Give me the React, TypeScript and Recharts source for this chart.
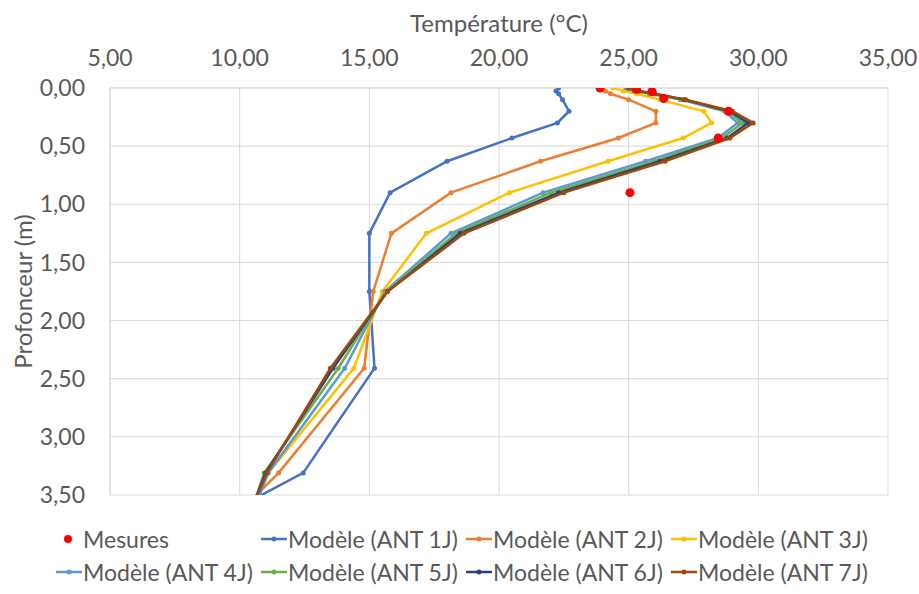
import { ScatterChart, Scatter, XAxis, YAxis, CartesianGrid } from "recharts";

// Axes
const TEMP_TICKS = [5, 10, 15, 20, 25, 30, 35];
const DEPTH_TICKS = [0, 0.5, 1, 1.5, 2, 2.5, 3, 3.5];

// Model profiles share the same depths (m); last point sits below the axis and is clipped
const MODEL_DEPTHS = [0, 0.025, 0.05, 0.1, 0.2, 0.3, 0.43, 0.63, 0.9, 1.25, 1.75, 2.41, 3.31, 3.6];
const ANT_1J = [22.3, 22.2, 22.3, 22.45, 22.7, 22.25, 20.5, 18.0, 15.8, 15.0, 15.0, 15.2, 12.45, 10.0];
const ANT_2J = [23.9, 24.1, 24.3, 25.0, 26.05, 26.05, 24.6, 21.6, 18.15, 15.85, 15.15, 14.8, 11.5, 10.2];
const ANT_3J = [24.4, 24.8, 25.3, 26.2, 27.9, 28.2, 27.1, 24.2, 20.4, 17.2, 15.5, 14.4, 11.1, 10.6];
const ANT_4J = [24.9, 25.2, 25.8, 27.0, 28.7, 29.2, 28.45, 25.65, 21.7, 18.15, 15.6, 14.05, 11.1, 10.6];
const ANT_5J = [25.0, 25.3, 25.9, 27.1, 28.8, 29.4, 28.6, 26.0, 22.0, 18.35, 15.65, 13.8, 10.95, 10.5];
const ANT_6J = [25.0, 25.35, 26.0, 27.15, 28.9, 29.6, 28.8, 26.2, 22.3, 18.5, 15.7, 13.6, 11.0, 10.5];
const ANT_7J = [25.0, 25.4, 26.0, 27.2, 29.0, 29.8, 28.9, 26.4, 22.5, 18.65, 15.7, 13.5, 11.05, 10.5];

// Measurements
const MESURES_DEPTHS = [0, 0.01, 0.03, 0.09, 0.2, 0.43, 0.9];
const MESURES_TEMPS = [23.9, 25.3, 25.9, 26.35, 28.85, 28.45, 25.05];

const FONT = "Lato, 'Open Sans', sans-serif";
const TEXT_COLOR = "#595959";
const GRID = "#d9d9d9";

const MODELS = [
  { name: "Modèle (ANT 1J)", color: "#4472C4", temps: ANT_1J },
  { name: "Modèle (ANT 2J)", color: "#ED7D31", temps: ANT_2J },
  { name: "Modèle (ANT 3J)", color: "#FFC000", temps: ANT_3J },
  { name: "Modèle (ANT 4J)", color: "#5B9BD5", temps: ANT_4J },
  { name: "Modèle (ANT 5J)", color: "#70AD47", temps: ANT_5J },
  { name: "Modèle (ANT 6J)", color: "#264478", temps: ANT_6J },
  { name: "Modèle (ANT 7J)", color: "#9E480E", temps: ANT_7J },
];

const toPoints = (temps: number[], depths: number[]) =>
  temps.map((t, i) => ({ t, d: depths[i] }));

const fmt = (v: number) => v.toFixed(2).replace(".", ",");

function dot(color: string, r: number) {
  return (props: any) =>
    props.cx == null ? <g /> : <circle cx={props.cx} cy={props.cy} r={r} fill={color} />;
}

function LegendItem({ name, color, measure }: { name: string; color: string; measure?: boolean }) {
  return (
    <div style={{ display: "flex", alignItems: "center", height: 33 }}>
      <svg width={28} height={12} style={{ flex: "none" }}>
        {measure ? (
          <circle cx={13} cy={6} r={4} fill="#FF0000" />
        ) : (
          <>
            <line x1={1} y1={6} x2={27} y2={6} stroke={color} strokeWidth={2.5} />
            <circle cx={14} cy={6} r={2.5} fill={color} />
          </>
        )}
      </svg>
      <span style={{ fontSize: 23, color: TEXT_COLOR, whiteSpace: "nowrap" }}>{name}</span>
    </div>
  );
}

export default function App() {
  return (
    <div
      style={{
        position: "absolute",
        left: 0,
        top: 0,
        width: 919,
        height: 594,
        background: "#fff",
        fontFamily: FONT,
      }}
    >
      <ScatterChart
        width={919}
        height={594}
        margin={{ top: 40, right: 31, bottom: 99, left: 20 }}
        style={{ fontFamily: FONT }}
      >
        <CartesianGrid stroke={GRID} strokeWidth={1} />
        <XAxis
          type="number"
          dataKey="t"
          orientation="top"
          domain={[5, 35]}
          ticks={TEMP_TICKS}
          tickFormatter={fmt}
          height={48}
          tickLine={false}
          tickMargin={16}
          axisLine={{ stroke: GRID }}
          tick={{ fill: TEXT_COLOR, fontSize: 23 }}
          label={{
            content: (p: any) => (
              <text
                x={p.viewBox.x + p.viewBox.width / 2}
                y={22}
                textAnchor="middle"
                dominantBaseline="central"
                fill={TEXT_COLOR}
                fontSize={24}
              >
                Température (°C)
              </text>
            ),
          }}
        />
        <YAxis
          type="number"
          dataKey="d"
          reversed
          allowDataOverflow
          domain={[0, 3.5]}
          ticks={DEPTH_TICKS}
          tickFormatter={fmt}
          width={90}
          tickLine={false}
          tickMargin={19}
          axisLine={{ stroke: GRID }}
          tick={{ fill: TEXT_COLOR, fontSize: 23 }}
          label={{
            content: (p: any) => {
              const cy = p.viewBox.y + p.viewBox.height / 2;
              return (
                <text
                  x={22}
                  y={cy}
                  transform={`rotate(-90 22 ${cy})`}
                  textAnchor="middle"
                  dominantBaseline="central"
                  fill={TEXT_COLOR}
                  fontSize={24}
                >
                  Profonceur (m)
                </text>
              );
            },
          }}
        />
        {MODELS.map((m) => (
          <Scatter
            key={m.name}
            name={m.name}
            data={toPoints(m.temps, MODEL_DEPTHS)}
            line={{ stroke: m.color, strokeWidth: 2.5 }}
            lineType="joint"
            shape={dot(m.color, 2.5)}
            fill={m.color}
            isAnimationActive={false}
          />
        ))}
        <Scatter
          name="Mesures"
          data={toPoints(MESURES_TEMPS, MESURES_DEPTHS)}
          shape={dot("#FF0000", 4.5)}
          fill="#FF0000"
          isAnimationActive={false}
        />
      </ScatterChart>
      <div
        style={{
          position: "absolute",
          left: 55,
          top: 522,
          display: "grid",
          gridTemplateColumns: "205px 205px 205px 205px",
        }}
      >
        <LegendItem name="Mesures" color="#FF0000" measure />
        {MODELS.map((m) => (
          <LegendItem key={m.name} name={m.name} color={m.color} />
        ))}
      </div>
    </div>
  );
}
